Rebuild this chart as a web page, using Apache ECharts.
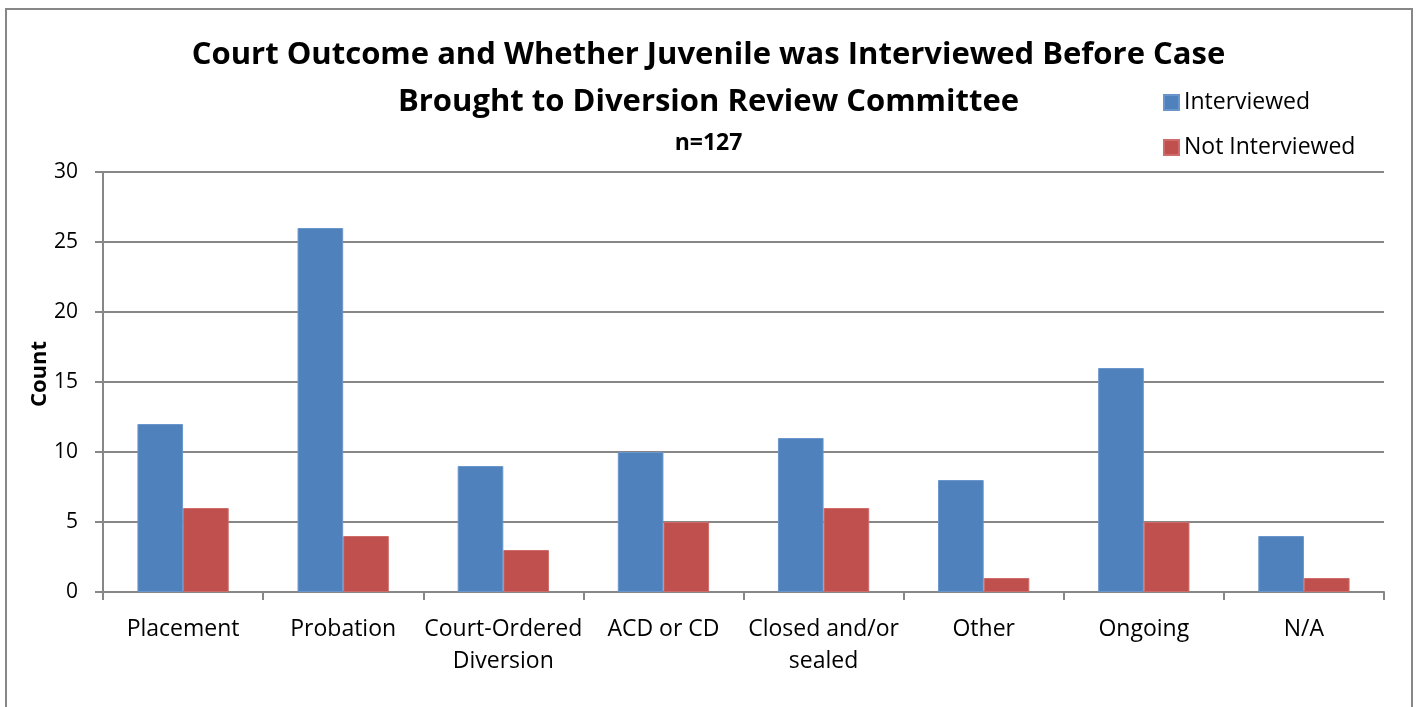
<!DOCTYPE html>
<html>
<head>
<meta charset="utf-8">
<script src="https://cdn.jsdelivr.net/npm/echarts@6/dist/echarts.min.js"></script>
<style>
  html, body { margin: 0; padding: 0; background: #fff; }
  #chart { width: 1417px; height: 707px; }
</style>
</head>
<body>
<div id="chart"></div>
<script>
// Court outcome categories and counts by interview status
const categories = ['Placement', 'Probation', 'Court-Ordered\nDiversion', 'ACD or CD', 'Closed and/or\nsealed', 'Other', 'Ongoing', 'N/A'];
const interviewed = [12, 26, 9, 10, 11, 8, 16, 4];
const notInterviewed = [6, 4, 3, 5, 6, 1, 5, 1];
const yTicks = { min: 0, max: 30, interval: 5 };

const FONT = '"Open Sans", Lato, sans-serif';
const GRAY = '#878787';

const chart = echarts.init(document.getElementById('chart'), null, { renderer: 'canvas' });
chart.setOption({
  animation: false,
  backgroundColor: '#fff',
  textStyle: { fontFamily: FONT, color: '#000' },
  title: [
    {
      text: 'Court Outcome and Whether Juvenile was Interviewed Before Case',
      left: 'center', top: 35,
      textStyle: { fontFamily: FONT, fontSize: 31, fontWeight: 'bold', color: '#000' }
    },
    {
      text: 'Brought to Diversion Review Committee',
      left: 'center', top: 82,
      textStyle: { fontFamily: FONT, fontSize: 31, fontWeight: 'bold', color: '#000' }
    },
    {
      text: 'n=127',
      left: 'center', top: 127,
      textStyle: { fontFamily: FONT, fontSize: 23, fontWeight: 'bold', color: '#000' }
    }
  ],
  legend: {
    orient: 'vertical',
    left: 1163, top: 91, padding: 0,
    itemWidth: 15, itemHeight: 15, itemGap: 22,
    icon: 'rect',
    textStyle: { fontFamily: FONT, fontSize: 23, color: '#000', padding: [0, 0, 0, 0] },
    data: ['Interviewed', 'Not Interviewed']
  },
  grid: { left: 103, right: 33, top: 172, bottom: 115, containLabel: false },
  xAxis: {
    type: 'category',
    data: categories,
    axisLine: { lineStyle: { color: GRAY, width: 2 } },
    axisTick: { show: true, length: 8, lineStyle: { color: GRAY, width: 2 } },
    axisLabel: { fontFamily: FONT, fontSize: 23, color: '#000', margin: 21, lineHeight: 32, interval: 0 }
  },
  yAxis: {
    type: 'value',
    min: yTicks.min, max: yTicks.max, interval: yTicks.interval,
    name: 'Count',
    nameLocation: 'middle',
    nameMoveOverlap: false,
    nameGap: 52,
    nameTextStyle: { fontFamily: FONT, fontSize: 22, fontWeight: 'bold', color: '#000', padding: [0, 0, 0, 16] },
    axisLine: { show: true, lineStyle: { color: GRAY, width: 2 } },
    axisTick: { show: true, length: 8, lineStyle: { color: GRAY, width: 2 } },
    axisLabel: { fontFamily: FONT, fontSize: 21, color: '#000', margin: 25 },
    splitLine: { show: true, lineStyle: { color: GRAY, width: 2 } }
  },
  series: [
    {
      name: 'Interviewed', type: 'bar', data: interviewed,
      barGap: '0%', barCategoryGap: '43%',
      itemStyle: { color: '#4F81BD', borderColor: '#6a96cc', borderWidth: 1 }
    },
    {
      name: 'Not Interviewed', type: 'bar', data: notInterviewed,
      itemStyle: { color: '#C0504D', borderColor: '#cf6c69', borderWidth: 1 }
    }
  ],
  graphic: [
    {
      type: 'rect', silent: true, z: 100,
      shape: { x: 6, y: 9, width: 1406, height: 720 },
      style: { fill: 'none', stroke: GRAY, lineWidth: 2 }
    }
  ]
});
</script>
</body>
</html>
